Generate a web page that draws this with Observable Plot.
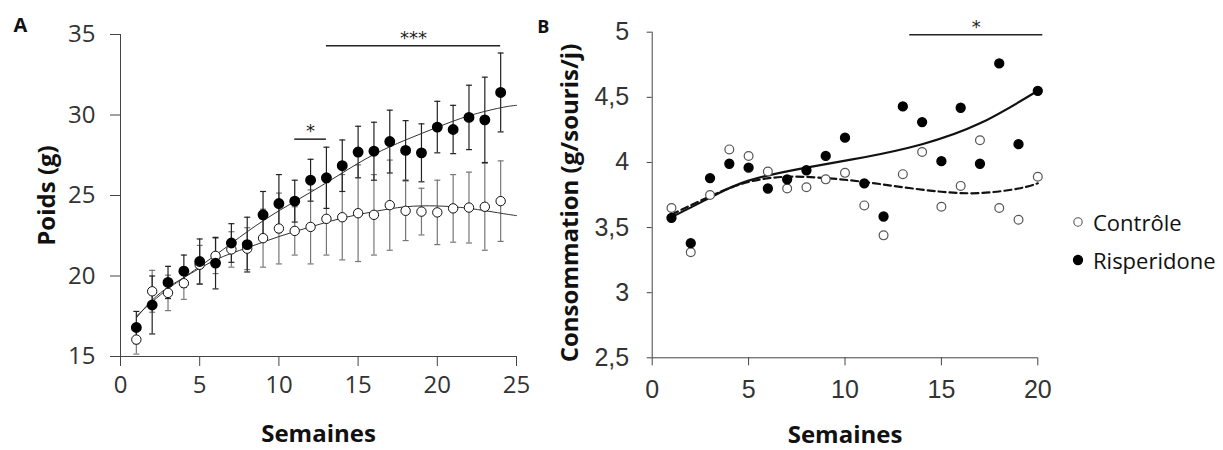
<!DOCTYPE html>
<html><head><meta charset="utf-8">
<script src="https://cdn.jsdelivr.net/npm/d3@7"></script>
<script src="https://cdn.jsdelivr.net/npm/@observablehq/plot@0.6"></script>
<style>
body{margin:0;background:#fff;}
#wrap{position:relative;width:1223px;height:450px;overflow:hidden;background:#fff;}
#a{position:absolute;left:0;top:0;}
#b{position:absolute;left:530px;top:0;}
#legend{position:absolute;left:1071px;top:203px;font-family:"Open Sans";font-size:22px;color:#111;}
.item{display:flex;align-items:center;height:38px;}
.item svg{margin-right:8px;}
</style></head><body>
<div id="wrap"><div id="a"></div><div id="b"></div><div id="legend"></div></div>
<script>
// ---------- Panel A data ----------
const weeksA = [1,2,3,4,5,6,7,8,9,10,11,12,13,14,15,16,17,18,19,20,21,22,23,24];
const controleA = [16.05,19.05,18.95,19.55,20.7,21.25,21.65,21.7,22.35,22.95,22.8,23.05,23.55,23.65,23.9,23.8,24.4,24.05,24.0,23.95,24.2,24.25,24.3,24.65];
const controleSdA = [0.9,1.3,1.1,1.0,1.2,1.1,1.1,1.3,1.8,2.2,1.5,2.3,2.25,2.65,3.0,2.5,2.8,1.85,1.45,2.0,2.1,2.2,2.7,2.5];
const risperidoneA = [16.8,18.2,19.6,20.3,20.9,20.8,22.05,21.95,23.8,24.5,24.65,25.95,26.1,26.85,27.7,27.75,28.35,27.8,27.65,29.25,29.1,29.85,29.7,31.4];
const risperidoneSdA = [1.0,1.8,1.0,1.0,1.4,1.6,1.2,1.7,1.45,1.8,1.3,1.3,1.9,1.6,1.6,1.8,1.95,1.85,1.8,1.6,1.5,2.0,2.65,2.45];
const trendWeeksA = [1,2,3,4,6,8,10,12,14,16,18,20,22,24,25];
const risTrendA = [17.5,18.4,19.2,19.9,21.3,22.75,24.05,25.2,26.4,27.55,28.45,29.24,29.95,30.45,30.6];
const conTrendA = [17.4,18.5,19.3,19.9,21.0,21.75,22.45,23.05,23.6,24.0,24.3,24.35,24.2,23.9,23.75];
const xTicksA = [0,5,10,15,20,25];
const yTicksA = [15,20,25,30,35];
const sigStartA = [11,13], sigEndA = [13,24], sigLevelA = [28.5,34.3], sigLabelA = ["*","***"];

// ---------- Panel B data ----------
const weeksB = [1,2,3,4,5,6,7,8,9,10,11,12,13,14,15,16,17,18,19,20];
const controleB = [3.65,3.31,3.75,4.10,4.05,3.93,3.80,3.81,3.87,3.92,3.67,3.44,3.91,4.08,3.66,3.82,4.17,3.65,3.56,3.89];
const risperidoneB = [3.575,3.38,3.88,3.99,3.96,3.80,3.87,3.94,4.05,4.19,3.84,3.585,4.43,4.31,4.01,4.42,3.99,4.76,4.14,4.55];
const risTrendWeeksB = [1,3,5,8,11,14,17,20];
const risTrendB = [3.58,3.73,3.86,3.96,4.04,4.14,4.30,4.55];
const conTrendWeeksB = [1,3,5,7,9,11,13,15,17,19,20];
const conTrendB = [3.60,3.74,3.85,3.89,3.88,3.85,3.81,3.775,3.765,3.80,3.84];
const xTicksB = [0,5,10,15,20];
const yTicksB = [2.5,3,3.5,4,4.5,5];
const yTickLabelsB = ["2,5","3","3,5","4","4,5","5"];
const sigStartB = [13.36], sigEndB = [20.26], sigLevelB = [4.98], sigLabelB = ["*"];

const groups = ["Contrôle","Risperidone"];

// ---------- tables ----------
const tableA = weeksA.flatMap((w,i)=>[
  {w, v: controleA[i], sd: controleSdA[i], g: groups[0]},
  {w, v: risperidoneA[i], sd: risperidoneSdA[i], g: groups[1]}
]);
const conA = tableA.filter(d=>d.g===groups[0]);
const risA = tableA.filter(d=>d.g===groups[1]);
const trendA = trendWeeksA.map((w,i)=>({w, r: risTrendA[i], c: conTrendA[i]}));
const sigA = sigStartA.map((s,i)=>({x1:s, x2:sigEndA[i], y:sigLevelA[i], label:sigLabelA[i], xm:(s+sigEndA[i])/2}));

const conBt = weeksB.map((w,i)=>({w, v: controleB[i]}));
const risBt = weeksB.map((w,i)=>({w, v: risperidoneB[i]}));
const risTrB = risTrendWeeksB.map((w,i)=>({w, v: risTrendB[i]}));
const conTrB = conTrendWeeksB.map((w,i)=>({w, v: conTrendB[i]}));
const sigB = sigStartB.map((s,i)=>({x1:s, x2:sigEndB[i], y:sigLevelB[i], label:sigLabelB[i], xm:(s+sigEndB[i])/2}));

const cap = {draw(ctx){ ctx.moveTo(-3,0); ctx.lineTo(3,0); }};
const titleFont = {fontFamily: "Open Sans", fontWeight: "bold", fontSize: 24, fill: "#111"};

function errorMarks(data, color){
  return [
    Plot.ruleX(data, {x: "w", y1: d=>d.v-d.sd, y2: d=>d.v+d.sd, stroke: color, strokeWidth: 1.2}),
    Plot.dot(data, {x: "w", y: d=>d.v+d.sd, symbol: cap, stroke: color, strokeWidth: 1.2, fill: "none"}),
    Plot.dot(data, {x: "w", y: d=>d.v-d.sd, symbol: cap, stroke: color, strokeWidth: 1.2, fill: "none"})
  ];
}

const plotA = Plot.plot({
  width: 530, height: 450,
  marginLeft: 120, marginRight: 14, marginTop: 34, marginBottom: 94,
  style: {fontFamily: "Open Sans", color: "#333", background: "white", overflow: "visible"},
  x: {domain: [0,25]},
  y: {domain: [15,35]},
  marks: [
    Plot.axisX(xTicksA, {tickSize: 10, tickPadding: 9, label: null, fontSize: 24, fontFamily: "Open Sans", stroke: "#444", fill: "#333"}),
    Plot.axisY(yTicksA, {tickSize: 10, tickPadding: 15, label: null, fontSize: 24, fontFamily: "Open Sans", stroke: "#444", fill: "#333"}),
    Plot.ruleY([15], {x1: 0, x2: 25, stroke: "#444"}),
    Plot.ruleX([0], {y1: 15, y2: 35, stroke: "#444"}),
    ...errorMarks(conA, "#777"),
    ...errorMarks(risA, "#222"),
    Plot.line(trendA, {x: "w", y: "c", stroke: "#333", strokeWidth: 1, curve: "natural"}),
    Plot.line(trendA, {x: "w", y: "r", stroke: "#333", strokeWidth: 1, curve: "natural"}),
    Plot.dot(conA, {x: "w", y: "v", r: 4.7, fill: "white", stroke: "#111", strokeWidth: 1}),
    Plot.dot(risA, {x: "w", y: "v", r: 4.7, fill: "#000", stroke: "#000"}),
    Plot.ruleY(sigA, {x1: "x1", x2: "x2", y: "y", stroke: "#222", strokeWidth: 1.5}),
    Plot.text(sigA, {x: "xm", y: "y", text: "label", dy: -8, lineAnchor: "middle", fontSize: 18, fontFamily: "DejaVu Sans", fill: "#222"}),
    Plot.text(["Poids (g)"], {frameAnchor: "left", dx: -73, rotate: -90, textAnchor: "middle", lineAnchor: "middle", ...titleFont}),
    Plot.text(["Semaines"], {frameAnchor: "bottom", dy: 78, textAnchor: "middle", lineAnchor: "middle", ...titleFont}),
    Plot.text(["A"], {frameAnchor: "top-left", dx: -107, dy: -17, textAnchor: "start", lineAnchor: "top", fontFamily: "Open Sans", fontWeight: "bold", fontSize: 20, fill: "#111"})
  ]
});
document.getElementById("a").appendChild(plotA);

const plotB = Plot.plot({
  width: 693, height: 450,
  marginLeft: 121.7, marginRight: 185.7, marginTop: 31.7, marginBottom: 92.7,
  style: {fontFamily: "Liberation Sans", color: "#333", background: "white", overflow: "visible"},
  x: {domain: [0,20]},
  y: {domain: [2.5,5]},
  marks: [
    Plot.axisX(xTicksB, {tickSize: 8, tickPadding: 14, label: null, fontSize: 25, fontFamily: "Liberation Sans", stroke: "#444", fill: "#333"}),
    Plot.axisY(yTicksB, {tickSize: 5, tickPadding: 18, label: null, fontSize: 25, fontFamily: "Liberation Sans", stroke: "#444", fill: "#333", tickFormat: d => yTickLabelsB[yTicksB.indexOf(d)]}),
    Plot.ruleY([2.5], {x1: 0, x2: 20, stroke: "#444"}),
    Plot.ruleX([0], {y1: 2.5, y2: 5, stroke: "#444"}),
    Plot.line(conTrB, {x: "w", y: "v", stroke: "#111", strokeWidth: 2.2, strokeDasharray: "7,4", curve: "natural"}),
    Plot.line(risTrB, {x: "w", y: "v", stroke: "#111", strokeWidth: 2.2, curve: "natural"}),
    Plot.dot(conBt, {x: "w", y: "v", r: 4.4, fill: "white", stroke: "#555", strokeWidth: 1.2}),
    Plot.dot(risBt, {x: "w", y: "v", r: 4.4, fill: "#000", stroke: "#000"}),
    Plot.ruleY(sigB, {x1: "x1", x2: "x2", y: "y", stroke: "#222", strokeWidth: 1.5}),
    Plot.text(sigB, {x: "xm", y: "y", text: "label", dy: -8, lineAnchor: "middle", fontSize: 18, fontFamily: "DejaVu Sans", fill: "#222"}),
    Plot.text(["Consommation (g/souris/j)"], {frameAnchor: "left", dx: -81.7, dy: 8, rotate: -90, textAnchor: "middle", lineAnchor: "middle", ...titleFont}),
    Plot.text(["Semaines"], {frameAnchor: "bottom", dy: 78, textAnchor: "middle", lineAnchor: "middle", ...titleFont}),
    Plot.text(["B"], {frameAnchor: "top-left", dx: -115, dy: -12, textAnchor: "start", lineAnchor: "top", fontFamily: "Open Sans", fontWeight: "bold", fontSize: 18, fill: "#111"})
  ]
});
document.getElementById("b").appendChild(plotB);

// ---------- legend ----------
const legend = document.getElementById("legend");
groups.forEach((g,i)=>{
  const item = document.createElement("div");
  item.className = "item";
  const filled = i === 1;
  item.innerHTML = `<svg width="14" height="14"><circle cx="7" cy="7" r="${filled ? 4.6 : 4.2}" fill="${filled ? '#000' : 'white'}" stroke="${filled ? '#000' : '#555'}" stroke-width="1.1"/></svg><span>${g}</span>`;
  legend.appendChild(item);
});
</script></body></html>
